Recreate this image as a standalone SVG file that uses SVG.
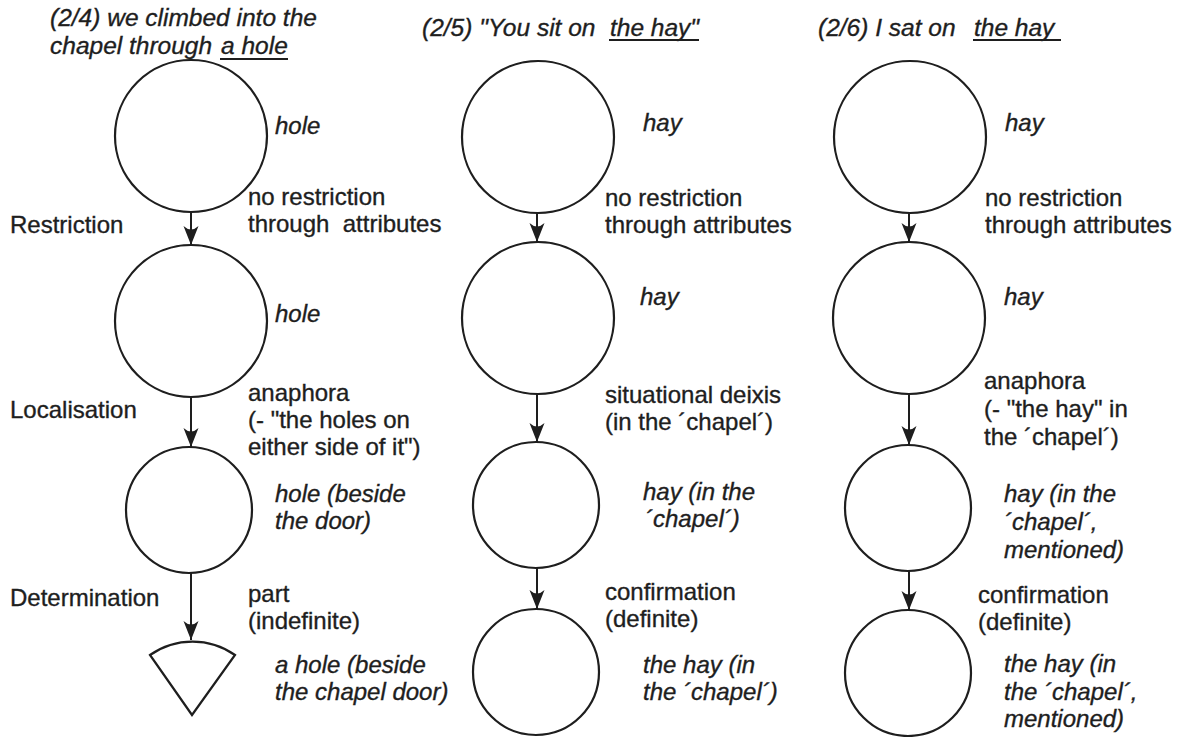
<svg xmlns="http://www.w3.org/2000/svg" width="1187" height="737" viewBox="0 0 1187 737">
  <style>
    text { font-family: "Liberation Sans", Arial, sans-serif; font-size: 24px; fill: #1e1e1e; stroke: #1e1e1e; stroke-width: 0.35; }
    .it { font-style: italic; }
    .title { font-size: 24.5px; }
    .node { fill: none; stroke: #1e1e1e; stroke-width: 2.2; }
    .edge { stroke: #1e1e1e; stroke-width: 2; fill: none; marker-end: url(#head); }
    .ul { stroke: #1e1e1e; stroke-width: 1.8; }
  </style>
  <defs>
    <marker id="head" markerUnits="userSpaceOnUse" orient="auto" refX="0" refY="0" overflow="visible">
      <path d="M0,0 L-19,-7.5 Q-12,0 -19,7.5 Z" fill="#1e1e1e"/>
    </marker>
  </defs>
  <rect width="1187" height="737" fill="#ffffff"/>

  <!-- row labels -->
  <g id="row-labels">
    <text x="10" y="233">Restriction</text>
    <text x="10" y="418">Localisation</text>
    <text x="10" y="606">Determination</text>
  </g>

  <!-- column 1: a hole -->
  <g id="title-1">
    <text class="it title" x="50" y="26">(2/4) we climbed into the</text>
    <text class="it title" x="50" y="54">chapel through <tspan x="221">a hole</tspan></text>
    <line class="ul" x1="220" y1="59" x2="288" y2="59"/>
  </g>
  <g id="n1-1">
    <circle class="node" cx="191" cy="136" r="76"/>
    <text class="it" x="275" y="134">hole</text>
  </g>
  <g id="n1-2">
    <circle class="node" cx="191" cy="321" r="76"/>
    <text class="it" x="275" y="322">hole</text>
  </g>
  <g id="n1-3">
    <circle class="node" cx="189" cy="510" r="63"/>
    <text class="it" x="275" y="502">hole (beside</text>
    <text class="it" x="275" y="529">the door)</text>
  </g>
  <g id="n1-4">
    <path class="node" d="M150,655 A74,74 0 0 1 235,655 L192,715 Z"/>
    <text class="it" x="275" y="673">a hole (beside</text>
    <text class="it" x="275" y="700">the chapel door)</text>
  </g>
  <g id="e1-labels">
    <text x="248" y="205">no restriction</text>
    <text x="248" y="232" xml:space="preserve">through  attributes</text>
    <text x="248" y="401">anaphora</text>
    <text x="248" y="428">(- "the holes on</text>
    <text x="248" y="455">either side of it")</text>
    <text x="248" y="602">part</text>
    <text x="248" y="629">(indefinite)</text>
  </g>

  <!-- column 2: the hay (speech) -->
  <g id="title-2">
    <text class="it title" x="422" y="36">(2/5) "You sit on <tspan x="610">the hay"</tspan></text>
    <line class="ul" x1="609" y1="40" x2="699" y2="40"/>
  </g>
  <g id="n2-1">
    <circle class="node" cx="538" cy="137" r="76"/>
    <text class="it" x="643" y="131">hay</text>
  </g>
  <g id="n2-2">
    <circle class="node" cx="538" cy="318" r="76"/>
    <text class="it" x="640" y="305">hay</text>
  </g>
  <g id="n2-3">
    <circle class="node" cx="536" cy="505" r="63"/>
    <text class="it" x="643" y="500">hay (in the</text>
    <text class="it" x="645" y="527">´chapel´)</text>
  </g>
  <g id="n2-4">
    <circle class="node" cx="536" cy="672" r="63"/>
    <text class="it" x="643" y="673">the hay (in</text>
    <text class="it" x="643" y="700">the ´chapel´)</text>
  </g>
  <g id="e2-labels">
    <text x="605" y="206">no restriction</text>
    <text x="605" y="233">through attributes</text>
    <text x="605" y="403">situational deixis</text>
    <text x="605" y="430">(in the ´chapel´)</text>
    <text x="605" y="600">confirmation</text>
    <text x="605" y="627">(definite)</text>
  </g>

  <!-- column 3: the hay (narrated) -->
  <g id="title-3">
    <text class="it title" x="818" y="36">(2/6) I sat on <tspan x="974">the hay</tspan></text>
    <line class="ul" x1="973" y1="40" x2="1061" y2="40"/>
  </g>
  <g id="n3-1">
    <circle class="node" cx="910" cy="137" r="76"/>
    <text class="it" x="1005" y="131">hay</text>
  </g>
  <g id="n3-2">
    <circle class="node" cx="909" cy="318" r="76"/>
    <text class="it" x="1004" y="305">hay</text>
  </g>
  <g id="n3-3">
    <circle class="node" cx="908" cy="508" r="63"/>
    <text class="it" x="1004" y="502">hay (in the</text>
    <text class="it" x="1004" y="530">´chapel´,</text>
    <text class="it" x="1004" y="558">mentioned)</text>
  </g>
  <g id="n3-4">
    <circle class="node" cx="908" cy="673" r="63"/>
    <text class="it" x="1004" y="672">the hay (in</text>
    <text class="it" x="1004" y="700">the ´chapel´,</text>
    <text class="it" x="1004" y="727">mentioned)</text>
  </g>
  <g id="e3-labels">
    <text x="985" y="206">no restriction</text>
    <text x="985" y="233">through attributes</text>
    <text x="984" y="389">anaphora</text>
    <text x="984" y="417">(- "the hay" in</text>
    <text x="984" y="445">the ´chapel´)</text>
    <text x="978" y="603">confirmation</text>
    <text x="978" y="630">(definite)</text>
  </g>

  <!-- connectors -->
  <g id="connectors">
    <line class="edge" x1="191" y1="212" x2="191" y2="245"/>
    <line class="edge" x1="191" y1="397" x2="191" y2="447"/>
    <line class="edge" x1="191" y1="573" x2="191" y2="640"/>
    <line class="edge" x1="537" y1="213" x2="537" y2="242"/>
    <line class="edge" x1="537" y1="394" x2="537" y2="442"/>
    <line class="edge" x1="537" y1="568" x2="537" y2="609"/>
    <line class="edge" x1="909" y1="213" x2="909" y2="242"/>
    <line class="edge" x1="909" y1="394" x2="909" y2="445"/>
    <line class="edge" x1="909" y1="571" x2="909" y2="610"/>
  </g>
</svg>
